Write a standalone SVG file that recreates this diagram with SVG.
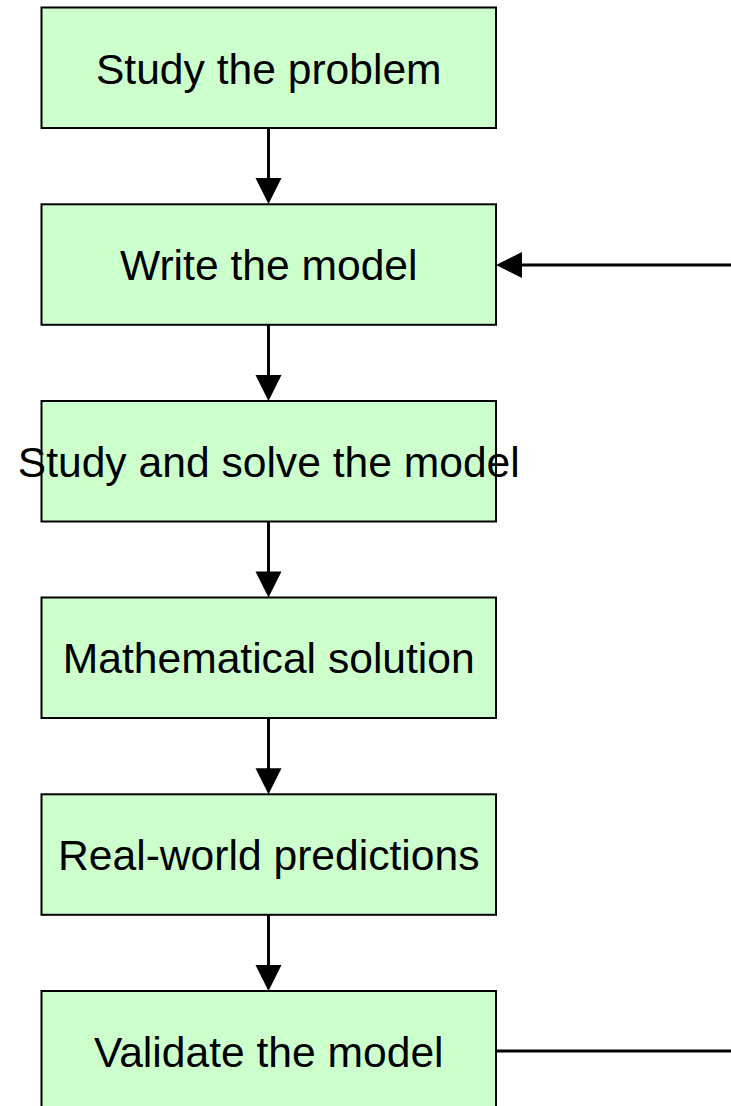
<svg xmlns="http://www.w3.org/2000/svg" width="731" height="1106" viewBox="0 0 731 1106">
<style>
.box{fill:#CCFFCC;stroke:#000;stroke-width:2}
.lbl{font-family:"Liberation Sans",Arial,sans-serif;font-size:42.6px;fill:#000;text-anchor:middle}
.con{stroke:#000;stroke-width:3;fill:none}
.head{fill:#000}
</style>
<rect width="731" height="1106" fill="#fff"/>
<g id="n1"><rect class="box" x="41.5" y="7.5" width="454.5" height="120.5"/><text class="lbl" x="268.75" y="83.5">Study the problem</text></g>
<g id="n2"><rect class="box" x="41.5" y="204.3" width="454.5" height="120.5"/><text class="lbl" x="268.75" y="280.2">Write the model</text></g>
<g id="n3"><rect class="box" x="41.5" y="401" width="454.5" height="120.5"/><text class="lbl" x="268.75" y="476.9">Study and solve the model</text></g>
<g id="n4"><rect class="box" x="41.5" y="597.5" width="454.5" height="120.5"/><text class="lbl" x="268.75" y="673.4">Mathematical solution</text></g>
<g id="n5"><rect class="box" x="41.5" y="794.3" width="454.5" height="120.5"/><text class="lbl" x="268.75" y="870.2">Real-world predictions</text></g>
<g id="n6"><rect class="box" x="41.5" y="991" width="454.5" height="120.5"/><text class="lbl" x="268.75" y="1066.9">Validate the model</text></g>
<g id="connectors">
<line class="con" x1="268.5" y1="128" x2="268.5" y2="180"/><polygon class="head" points="255.5,178 281.5,178 268.5,204"/>
<line class="con" x1="268.5" y1="325" x2="268.5" y2="377"/><polygon class="head" points="255.5,375 281.5,375 268.5,401"/>
<line class="con" x1="268.5" y1="521.5" x2="268.5" y2="573"/><polygon class="head" points="255.5,571.5 281.5,571.5 268.5,597.5"/>
<line class="con" x1="268.5" y1="718" x2="268.5" y2="770"/><polygon class="head" points="255.5,768.3 281.5,768.3 268.5,794.3"/>
<line class="con" x1="268.5" y1="915" x2="268.5" y2="967"/><polygon class="head" points="255.5,965 281.5,965 268.5,991"/>
<line class="con" x1="496" y1="1051" x2="731" y2="1051"/>
<line class="con" x1="520" y1="265" x2="731" y2="265"/><polygon class="head" points="522,252 522,278 496,265"/>
</g>
</svg>
